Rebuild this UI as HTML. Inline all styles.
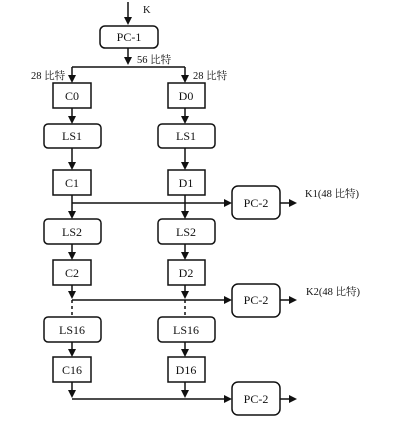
<!DOCTYPE html>
<html><head><meta charset="utf-8"><style>
html,body{margin:0;padding:0;background:#fff;}
svg{display:block}
text{font-family:"Liberation Serif","Noto Serif CJK SC","Noto Sans CJK SC",serif;fill:#111;}
</style></head><body>
<svg width="400" height="423" viewBox="0 0 400 423" xmlns="http://www.w3.org/2000/svg">
<g stroke="#111" stroke-width="1.5" fill="none">
<line x1="128" y1="2" x2="128" y2="20"/>
<rect x="100" y="26" width="58" height="22" rx="5"/>
<line x1="128" y1="48" x2="128" y2="60"/>
<line x1="72" y1="67" x2="185" y2="67"/>
<line x1="72" y1="67" x2="72" y2="76"/>
<line x1="185" y1="67" x2="185" y2="76"/>
<rect x="53" y="83" width="38" height="25"/>
<line x1="72" y1="108" x2="72" y2="117"/>
<rect x="44" y="124" width="57" height="24" rx="4"/>
<line x1="72" y1="148" x2="72" y2="163"/>
<rect x="53" y="170" width="38" height="25"/>
<line x1="72" y1="195" x2="72" y2="212"/>
<rect x="44" y="219" width="57" height="25" rx="4"/>
<line x1="72" y1="244" x2="72" y2="253"/>
<rect x="53" y="260" width="38" height="25"/>
<line x1="72" y1="285" x2="72" y2="292"/>
<line x1="72" y1="300" x2="72" y2="317" stroke-dasharray="3,3"/>
<rect x="44" y="317" width="57" height="25" rx="4"/>
<line x1="72" y1="342" x2="72" y2="350"/>
<rect x="53" y="357" width="38" height="25"/>
<line x1="72" y1="382" x2="72" y2="392"/>
<rect x="168" y="83" width="37" height="25"/>
<line x1="185" y1="108" x2="185" y2="117"/>
<rect x="158" y="124" width="57" height="24" rx="4"/>
<line x1="185" y1="148" x2="185" y2="163"/>
<rect x="168" y="170" width="37" height="25"/>
<line x1="185" y1="195" x2="185" y2="212"/>
<rect x="158" y="219" width="57" height="25" rx="4"/>
<line x1="185" y1="244" x2="185" y2="253"/>
<rect x="168" y="260" width="37" height="25"/>
<line x1="185" y1="285" x2="185" y2="292"/>
<line x1="185" y1="300" x2="185" y2="317" stroke-dasharray="3,3"/>
<rect x="158" y="317" width="57" height="25" rx="4"/>
<line x1="185" y1="342" x2="185" y2="350"/>
<rect x="168" y="357" width="37" height="25"/>
<line x1="185" y1="382" x2="185" y2="392"/>
<line x1="72" y1="203" x2="225" y2="203"/>
<line x1="72" y1="300" x2="225" y2="300"/>
<line x1="72" y1="399" x2="225" y2="399"/>
<rect x="232" y="186" width="48" height="33" rx="6"/>
<rect x="232" y="284" width="48" height="33" rx="6"/>
<rect x="232" y="382" width="48" height="33" rx="6"/>
<line x1="280" y1="203" x2="291" y2="203"/>
<line x1="280" y1="300" x2="291" y2="300"/>
<line x1="280" y1="399" x2="291" y2="399"/>
</g>
<g fill="#111">
<polygon points="124,17 132,17 128,25"/>
<polygon points="124,57 132,57 128,65"/>
<polygon points="68,75 76,75 72,83"/><polygon points="181,75 189,75 185,83"/>
<polygon points="68,116 76,116 72,124"/><polygon points="181,116 189,116 185,124"/>
<polygon points="68,162 76,162 72,170"/><polygon points="181,162 189,162 185,170"/>
<polygon points="68,211 76,211 72,219"/><polygon points="181,211 189,211 185,219"/>
<polygon points="68,252 76,252 72,260"/><polygon points="181,252 189,252 185,260"/>
<polygon points="68,291 76,291 72,299"/><polygon points="181,291 189,291 185,299"/>
<polygon points="68,349 76,349 72,357"/><polygon points="181,349 189,349 185,357"/>
<polygon points="68,390 76,390 72,398"/><polygon points="181,390 189,390 185,398"/>
<polygon points="224,199 224,207 232,203"/>
<polygon points="224,296 224,304 232,300"/>
<polygon points="224,395 224,403 232,399"/>
<polygon points="289,199 289,207 297,203"/>
<polygon points="289,296 289,304 297,300"/>
<polygon points="289,395 289,403 297,399"/>
</g>
<g font-size="12" text-anchor="middle">
<text x="129" y="41">PC-1</text>
<text x="72" y="100">C0</text><text x="186" y="100">D0</text>
<text x="72" y="140">LS1</text><text x="186" y="140">LS1</text>
<text x="72" y="187">C1</text><text x="186" y="187">D1</text>
<text x="72" y="236">LS2</text><text x="186" y="236">LS2</text>
<text x="72" y="277">C2</text><text x="186" y="277">D2</text>
<text x="72" y="334">LS16</text><text x="186" y="334">LS16</text>
<text x="72" y="374">C16</text><text x="186" y="374">D16</text>
<text x="256" y="207">PC-2</text>
<text x="256" y="304">PC-2</text>
<text x="256" y="403">PC-2</text>
</g>
<g font-size="10.5">
<text x="143" y="13">K</text>
<text x="137" y="63">56 比特</text>
<text x="31" y="79">28 比特</text>
<text x="193" y="79">28 比特</text>
<text x="305" y="197">K1(48 比特)</text>
<text x="306" y="295">K2(48 比特)</text>
</g>
</svg>
</body></html>
